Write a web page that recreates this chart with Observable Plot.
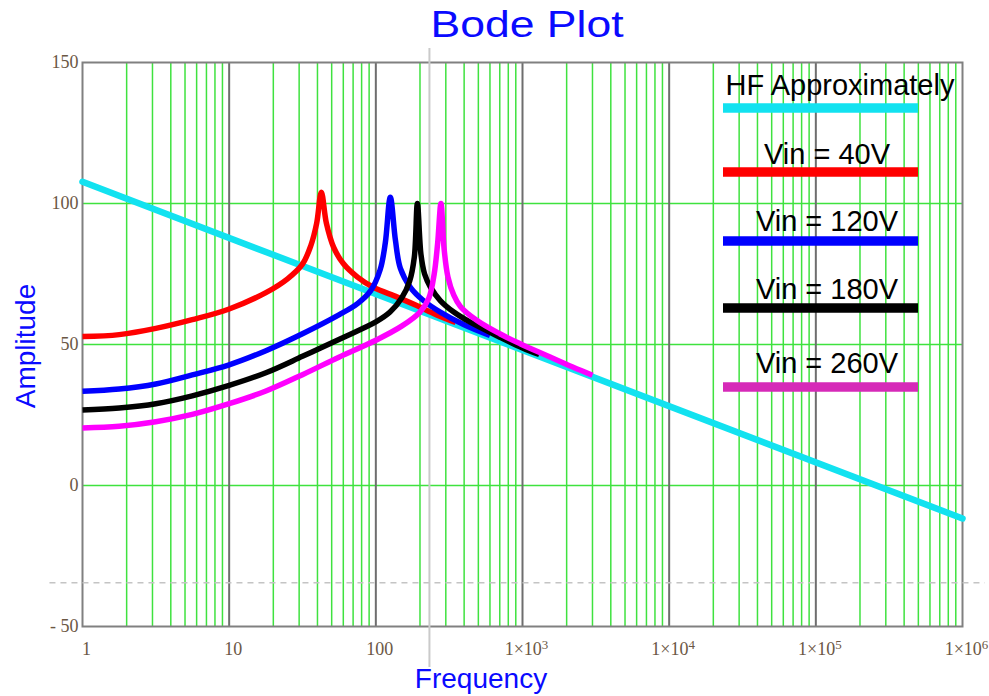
<!DOCTYPE html>
<html>
<head>
<meta charset="utf-8">
<script src="https://cdn.jsdelivr.net/npm/d3@7"></script>
<script src="https://cdn.jsdelivr.net/npm/@observablehq/plot@0.6"></script>
<style>
  html, body { margin: 0; padding: 0; background: #fff; }
  #chart svg { display: block; }
</style>
</head>
<body>
<div id="chart"></div>
<script>
// ---- Data ----
const seriesNames = ["HF Approximately", "Vin = 40V", "Vin = 120V", "Vin = 180V", "Vin = 260V"];
const seriesColors = ["#12e2f0", "#ff0000", "#0000ff", "#000000", "#ff00ff"];
const legendColors = ["#12e2f0", "#ff0000", "#0000ff", "#000000", "#d62ab8"];

// HF approximation (straight line on log axis)
const hfFreq = [1, 1e6];
const hfAmp  = [107.7, -11.7];

const v40Freq = [1, 1.78, 3.16, 5.6, 10, 17.8, 25, 31.6, 36, 39.5, 42.5, 46, 51.5, 60, 75, 96, 140, 190, 260, 350];
const v40Amp  = [52.8, 53.5, 55.7, 58.8, 62.6, 68.4, 73.3, 78.5, 85.0, 93.0, 104.0, 93.0, 84.5, 78.7, 73.9, 70.3, 66.8, 63.8, 60.5, 57.8];

const v120Freq = [1, 1.78, 3.16, 5.6, 10, 17.8, 31.6, 56, 75, 92, 107, 116, 125.5, 136, 147, 172, 211, 275, 400, 600];
const v120Amp  = [33.4, 34.2, 36.0, 39.2, 42.8, 47.8, 53.8, 60.5, 64.5, 69.0, 76.5, 86.0, 102.2, 87.0, 77.0, 70.3, 65.6, 61.5, 57.0, 53.2];

const v180Freq = [1, 1.78, 3.16, 5.6, 10, 17.8, 31.6, 56, 100, 125, 150, 170, 183, 192, 203, 215, 236, 275, 340, 440, 700, 1000, 1300];
const v180Amp  = [26.8, 27.5, 29.0, 31.8, 35.5, 40.0, 45.8, 51.8, 58.0, 61.5, 66.5, 72.5, 81.0, 100.0, 82.0, 75.0, 70.3, 65.6, 61.5, 57.9, 52.6, 48.8, 46.5];

const v260Freq = [1, 1.78, 3.16, 5.6, 10, 17.8, 31.6, 56, 100, 150, 200, 230, 250, 264, 278, 292, 310, 340, 377, 490, 700, 970, 1460, 2200, 3000];
const v260Amp  = [20.4, 21.0, 22.6, 25.2, 29.0, 33.5, 39.3, 45.5, 51.5, 56.5, 61.5, 66.5, 75.0, 86.0, 100.0, 84.0, 74.0, 67.5, 63.5, 58.5, 53.8, 50.2, 46.1, 42.0, 39.1];

// Axis ticks
const yTicks = [-50, 0, 50, 100, 150];
const yTickLabels = ["- 50", "0", "50", "100", "150"];
const xTicks = [1, 10, 100, 1e3, 1e4, 1e5, 1e6];
const xTickLabels = ["1", "10", "100", "1×10^3", "1×10^4", "1×10^5", "1×10^6"];
const hGridValues = [0, 50, 100];

// Cursor/marker lines seen in the picture
const markerFreq = [232];
const dashedLevel = [-34.5];

// ---- Build ----
const toRows = (f, a) => f.map((x, i) => ({x, y: a[i]}));
const curves = [
  toRows(hfFreq, hfAmp),
  toRows(v40Freq, v40Amp),
  toRows(v120Freq, v120Amp),
  toRows(v180Freq, v180Amp),
  toRows(v260Freq, v260Amp)
];

// grid lines (minor: 2..9 per decade)
const minorGrid = [];
for (let k = 0; k < 6; k++) for (let m = 2; m <= 9; m++) minorGrid.push(m * Math.pow(10, k));
const decadeGrid = xTicks.slice(1, -1);

const W = 989, H = 696;
const mL = 82, mR = 27, mT = 62, mB = 70;
const curveOpts = (i) => ({x: "x", y: "y", stroke: seriesColors[i], strokeWidth: 5.5, curve: "catmull-rom", strokeLinecap: "butt"});

const plot = Plot.plot({
  width: W, height: H,
  marginLeft: mL, marginRight: mR, marginTop: mT, marginBottom: mB,
  x: {type: "log", domain: [1, 1e6]},
  y: {domain: [-50, 150]},
  style: {background: "#fff", fontFamily: "'Liberation Serif', serif", fontSize: "18px", color: "#6b5744", overflow: "visible"},
  marks: [
    Plot.ruleX(minorGrid, {stroke: "#3fe23f", strokeWidth: 1.5}),
    Plot.ruleY(hGridValues, {stroke: "#3fe23f", strokeWidth: 1.5}),
    Plot.ruleX(decadeGrid, {stroke: "#6e6e6e", strokeWidth: 2}),
    Plot.frame({stroke: "#808080", strokeWidth: 2}),
    Plot.ruleY(dashedLevel, {x1: 0.6, x2: 1.43e6, stroke: "#c4c4c4", strokeWidth: 1.5, strokeDasharray: "6,5"}),
    Plot.ruleX(markerFreq, {y1: 155, y2: -64.5, stroke: "#cacaca", strokeWidth: 2}),
    Plot.line(curves[0], {x: "x", y: "y", stroke: seriesColors[0], strokeWidth: 6.5}),
    Plot.line(curves[1], curveOpts(1)),
    Plot.line(curves[2], curveOpts(2)),
    Plot.line(curves[3], curveOpts(3)),
    Plot.line(curves[4], curveOpts(4)),
    Plot.axisY({ticks: yTicks, tickSize: 0, tickPadding: 4, label: null, fontSize: 18,
      tickFormat: d => yTickLabels[yTicks.indexOf(d)]}),
    Plot.axisX({ticks: xTicks, tickSize: 0, tickPadding: 16, dx: 4, label: null, fontSize: 18,
      tickFormat: d => xTickLabels[xTicks.indexOf(d)]})
  ]
});

const svg = d3.select(plot);

// superscript exponents in x tick labels
svg.selectAll('g[aria-label="x-axis tick label"] text').each(function() {
  const s = this.textContent;
  if (s.includes("^")) {
    const [base, exp] = s.split("^");
    const t = d3.select(this);
    t.text(null);
    t.append("tspan").text(base);
    t.append("tspan").attr("dy", "-0.5em").attr("font-size", "0.72em").text(exp);
  }
});

// Title
svg.append("text")
  .attr("x", 527).attr("y", 37)
  .attr("text-anchor", "middle")
  .attr("font-family", "'Liberation Sans', Arial, sans-serif")
  .attr("font-size", 37)
  .attr("textLength", 193).attr("lengthAdjust", "spacingAndGlyphs")
  .attr("fill", "#0a0aff")
  .text("Bode Plot");

// Axis titles
svg.append("text")
  .attr("x", 481).attr("y", 688)
  .attr("text-anchor", "middle")
  .attr("font-family", "'Liberation Sans', Arial, sans-serif")
  .attr("font-size", 28)
  .attr("fill", "#0a0aff")
  .text("Frequency");

svg.append("text")
  .attr("transform", "translate(35,346) rotate(-90)")
  .attr("text-anchor", "middle")
  .attr("font-family", "'Liberation Sans', Arial, sans-serif")
  .attr("font-size", 28)
  .attr("fill", "#0a0aff")
  .text("Amplitude");

// Legend (inside the plot, top right)
const legendTextX = [840, 827, 827, 827, 827];
const legendTextY = [95, 164, 231, 299, 373];
const legendLineY = [108, 172, 241, 308, 387];
const lg = svg.append("g").attr("aria-label", "legend");
seriesNames.forEach((name, i) => {
  lg.append("text")
    .attr("x", legendTextX[i]).attr("y", legendTextY[i])
    .attr("text-anchor", "middle")
    .attr("font-family", "'Liberation Sans', Arial, sans-serif")
    .attr("font-size", 29)
    .attr("fill", "#000")
    .text(name);
  lg.append("line")
    .attr("x1", 723).attr("x2", 918)
    .attr("y1", legendLineY[i]).attr("y2", legendLineY[i])
    .attr("stroke", legendColors[i]).attr("stroke-width", 9.5);
});

document.getElementById("chart").appendChild(plot);
</script>
</body>
</html>
